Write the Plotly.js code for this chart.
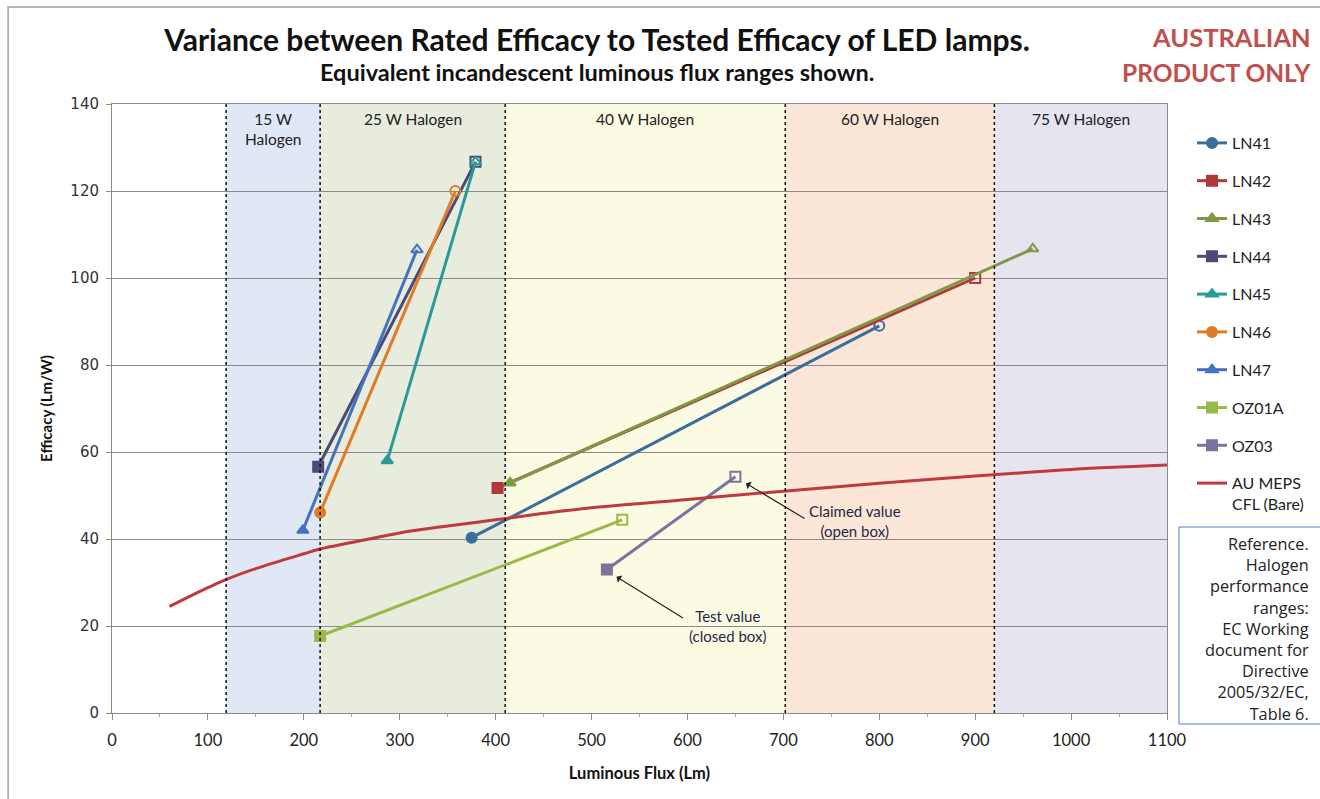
<!DOCTYPE html>
<html>
<head>
<meta charset="utf-8">
<script src="https://cdn.plot.ly/plotly-3.0.1.min.js"></script>
<style>html,body{margin:0;padding:0;background:#fff;}#chart{width:1320px;height:799px;}</style>
</head>
<body>
<div id="chart"></div>
<script>
// Series: [test value (closed), claimed value (open)]
const seriesNames = ['LN41','LN42','LN43','LN44','LN45','LN46','LN47','OZ01A','OZ03'];
const fluxLN41 = [375, 800];   const effLN41 = [40.3, 89.0];
const fluxLN42 = [402, 900];   const effLN42 = [51.7, 100.0];
const fluxLN43 = [415, 960];   const effLN43 = [52.9, 106.7];
const fluxLN44 = [215, 379];   const effLN44 = [56.6, 126.7];
const fluxLN45 = [287, 379];   const effLN45 = [58.0, 126.7];
const fluxLN46 = [217, 358];   const effLN46 = [46.1, 120.0];
const fluxLN47 = [199, 318];   const effLN47 = [42.0, 106.5];
const fluxOZ01A = [217, 532];  const effOZ01A = [17.7, 44.4];
const fluxOZ03 = [516, 650];   const effOZ03 = [33.0, 54.3];

// AU MEPS CFL (Bare) curve
const mepsFlux = [60, 80, 100, 118, 150, 200, 217, 250, 300, 350, 400, 450, 500, 600, 700, 800, 900, 967, 1000, 1100];
const mepsEff  = [24.5, 26.7, 28.8, 30.6, 33.2, 36.6, 37.7, 39.2, 41.4, 43.0, 44.4, 45.9, 47.2, 49.1, 51.0, 52.8, 54.5, 55.5, 56.0, 57.0];

// Halogen reference ranges (EC Table 6)
const bandEdges = [119, 217, 410, 702, 920, 1100];
const bandLabels = ['15 W<br>Halogen', '25 W Halogen', '40 W Halogen', '60 W Halogen', '75 W Halogen'];

const xTicks = [0,100,200,300,400,500,600,700,800,900,1000,1100];
const yTicks = [0,20,40,60,80,100,120,140];

const F = 'Lato, "Open sans", sans-serif';
const OS = '"Open Sans", Lato, sans-serif';

const seriesData = [
  {name:'LN41', x:fluxLN41, y:effLN41, color:'#3b6f9b', sym:'circle'},
  {name:'LN42', x:fluxLN42, y:effLN42, color:'#b0393a', sym:'square'},
  {name:'LN43', x:fluxLN43, y:effLN43, color:'#7e9a46', sym:'triangle-up'},
  {name:'LN44', x:fluxLN44, y:effLN44, color:'#4b4a78', sym:'square'},
  {name:'LN45', x:fluxLN45, y:effLN45, color:'#2a9a97', sym:'triangle-up'},
  {name:'LN46', x:fluxLN46, y:effLN46, color:'#e07b27', sym:'circle'},
  {name:'LN47', x:fluxLN47, y:effLN47, color:'#4272c0', sym:'triangle-up'},
  {name:'OZ01A', x:fluxOZ01A, y:effOZ01A, color:'#9aba48', sym:'square'},
  {name:'OZ03', x:fluxOZ03, y:effOZ03, color:'#7a739c', sym:'square'}
];

const traces = seriesData.map((s, i) => ({
  type:'scatter', mode:'lines+markers', name:s.name, x:s.x, y:s.y,
  legendgroup:'g'+i,
  line:{color:s.color, width:3},
  marker:{color:s.color, size:10, symbol:[s.sym, s.sym+'-open'], line:{color:s.color, width:2}},
  cliponaxis:false
}));
traces.push({
  type:'scatter', mode:'lines', name:'AU MEPS<br>CFL (Bare)', x:mepsFlux, y:mepsEff,
  legendgroup:'g9', line:{color:'#c0393f', width:3, shape:'spline'}
});

const bandColors = ['#e0e8f6', '#e7ecdd', '#fbfbe4', '#fbe6d8', '#e6e4ef'];
const shapes = [];
for (let i = 0; i < 5; i++) {
  shapes.push({type:'rect', layer:'below', xref:'x', yref:'paper', x0:bandEdges[i], x1:bandEdges[i+1], y0:0, y1:1,
    fillcolor:bandColors[i], line:{width:0}});
}
for (let i = 0; i < 5; i++) {
  shapes.push({type:'line', layer:'above', xref:'x', yref:'paper', x0:bandEdges[i], x1:bandEdges[i], y0:0, y1:1,
    line:{color:'#111', width:1.5, dash:'dot'}});
}
// outer chart border
shapes.push({type:'rect', xref:'paper', yref:'paper', x0:-0.0985, x1:1.25, y0:-0.2, y1:1.1593,
  line:{color:'#a0a0a0', width:1.5}, fillcolor:'rgba(0,0,0,0)'});
// reference box
shapes.push({type:'rect', xref:'paper', yref:'paper', x0:(1180-112)/1056, x1:(1330-112)/1056, y0:(713-724)/609, y1:(713-527)/609,
  line:{color:'#4f7fc6', width:1}, fillcolor:'rgba(0,0,0,0)'});

const px = v => (v-112)/1056;
const py = v => (713-v)/609;

const annotations = [];
for (let i = 0; i < 5; i++) {
  annotations.push({xref:'x', yref:'paper', x:(bandEdges[i]+bandEdges[i+1])/2, xanchor:'center', y:1, yanchor:'top', yshift:-4,
    text:bandLabels[i], showarrow:false, font:{family:F, size:15.5, color:'#222'}});
}
annotations.push({xref:'paper', yref:'paper', x:px(597), xanchor:'center', y:py(72), yanchor:'middle',
  text:'<b>Equivalent incandescent luminous flux ranges shown.</b>', showarrow:false, font:{family:F, size:23.5, color:'#111'}});
annotations.push({xref:'paper', yref:'paper', x:px(1314), xanchor:'right', y:py(37), yanchor:'middle',
  text:'<b>AUSTRALIAN</b>', showarrow:false, font:{family:F, size:25.5, color:'#c0504d'}});
annotations.push({xref:'paper', yref:'paper', x:px(1314), xanchor:'right', y:py(72), yanchor:'middle',
  text:'<b>PRODUCT ONLY</b>', showarrow:false, font:{family:F, size:24.5, color:'#c0504d'}});
annotations.push({xref:'paper', yref:'paper', x:px(1312), xanchor:'right', y:py(629), yanchor:'middle', align:'right',
  text:'Reference.<br>Halogen<br>performance<br>ranges:<br>EC Working<br>document for<br>Directive<br>2005/32/EC,<br>Table 6.',
  showarrow:false, font:{family:OS, size:16.3, color:'#222'}});
// callouts
annotations.push({xref:'x', yref:'y', x:661, y:52.8, ax:60, ay:36, text:'', showarrow:true, arrowhead:1, arrowsize:1.2, arrowwidth:1.2, arrowcolor:'#222'});
annotations.push({xref:'x', yref:'y', x:526, y:31.3, ax:68, ay:42, text:'', showarrow:true, arrowhead:1, arrowsize:1.2, arrowwidth:1.2, arrowcolor:'#222'});
annotations.push({xref:'x', yref:'y', x:775, y:44.2, xanchor:'center', yanchor:'middle', text:'Claimed value<br>(open box)', showarrow:false, font:{family:F, size:15, color:'#1f2a44'}});
annotations.push({xref:'x', yref:'y', x:642, y:20.0, xanchor:'center', yanchor:'middle', text:'Test value<br>(closed box)', showarrow:false, font:{family:F, size:15, color:'#1f2a44'}});

const layout = {
  width:1320, height:799,
  margin:{l:112, r:152, t:104, b:86},
  paper_bgcolor:'#fff', plot_bgcolor:'#fff',
  title:{text:'<b>Variance between Rated Efficacy to Tested Efficacy of LED lamps.</b>', x:597/1320, xanchor:'center', xref:'container',
    y:1-40/799, yanchor:'middle', yref:'container', font:{family:F, size:30, color:'#111'}},
  xaxis:{range:[0,1100], tickvals:xTicks, ticktext:xTicks.map(String), showgrid:false, zeroline:false,
    showline:true, linecolor:'#8a8a8a', linewidth:1, mirror:true,
    ticks:'outside', ticklen:6, tickcolor:'#8a8a8a',
    minor:{dtick:50, ticks:'outside', ticklen:3, tickcolor:'#aaa'},
    tickfont:{family:F, size:16.5, color:'#222'}, ticklabelstandoff:6,
    title:{text:'<b>Luminous Flux (Lm)</b>', font:{family:F, size:16.5, color:'#111'}, standoff:18}},
  yaxis:{range:[0,140], tickvals:yTicks, showgrid:true, gridcolor:'#8a8a8a', gridwidth:1, zeroline:false,
    showline:true, linecolor:'#8a8a8a', linewidth:1, mirror:true,
    ticks:'outside', ticklen:5, tickcolor:'#8a8a8a',
    tickfont:{family:'"DejaVu Sans", Verdana, sans-serif', size:15, color:'#333'}, ticklabelstandoff:4,
    title:{text:'<b>Efficacy (Lm/W)</b>', font:{family:F, size:15, color:'#111'}, standoff:14}},
  legend:{x:px(1192), xanchor:'left', y:py(126), yanchor:'top', bgcolor:'rgba(0,0,0,0)',
    font:{family:F, size:16, color:'#222'}, traceorder:'grouped', tracegroupgap:14, valign:'top', itemwidth:30},
  shapes:shapes, annotations:annotations,
  showlegend:true
};

Plotly.newPlot('chart', traces, layout, {displayModeBar:false, staticPlot:true});
</script>
</body>
</html>
